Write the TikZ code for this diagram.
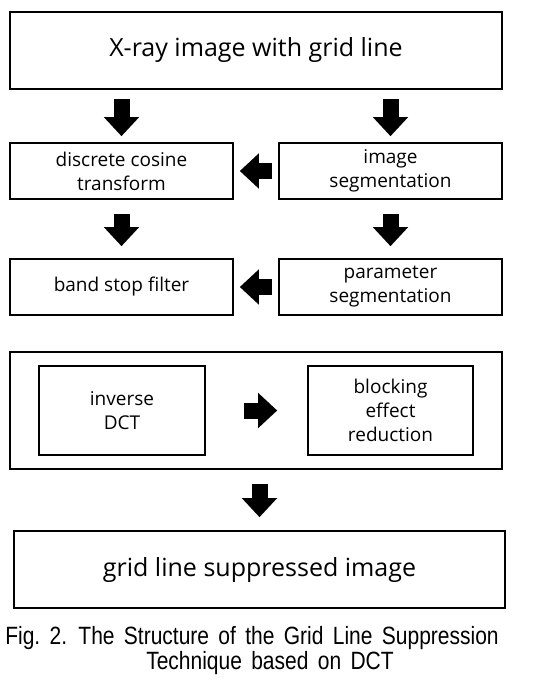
\documentclass[tikz,border=0pt]{standalone}
\usepackage{fontspec}
\setmainfont{Open Sans}
\newfontfamily\capfont[FakeStretch=0.84, WordSpace=1.6]{Liberation Sans}
\usetikzlibrary{positioning,arrows.meta}

\tikzset{
  stage/.style={draw, rectangle, line width=0.8pt, align=center, inner sep=0pt,
    font=\fontsize{9.5}{12}\selectfont},
  bigstage/.style={stage, font=\fontsize{12.5}{15}\selectfont},
  blockarrow/.style={line width=8pt, -{Triangle[width=17pt,length=9.5pt]}},
}

\begin{document}
\begin{tikzpicture}[x=0.5pt, y=-0.5pt]
  \useasboundingbox (0,0) rectangle (552,691);

  % input
  \node (Xray) [bigstage, minimum width=246pt, minimum height=38.5pt] at (256,50.5) {X-ray image with grid line};

  % left and right columns
  \node (DCT) [stage, minimum width=111.5pt, minimum height=28pt] at (121.5,171) {discrete cosine\\transform};
  \node (Seg) [stage, minimum width=111.5pt, minimum height=28pt] at (390.5,171) {image\\segmentation};
  \node (Filter) [stage, minimum width=111.5pt, minimum height=28pt] at (121.5,287) {band stop filter};
  \node (Param) [stage, minimum width=111.5pt, minimum height=28pt] at (390.5,287) {parameter\\segmentation};

  % post processing
  \node (Post) [stage, minimum width=246pt, minimum height=58.5pt] at (256,410.5) {};
  \node (IDCT) [stage, minimum width=83pt, minimum height=44.5pt] at (122,410.5) {inverse\\DCT};
  \node (Block) [stage, minimum width=82.5pt, minimum height=44.5pt] at (390.5,410.5) {blocking\\effect\\reduction};

  % output
  \node (Result) [bigstage, minimum width=245.5pt, minimum height=38.5pt] at (259.5,569.5) {grid line suppressed image};

  % caption
  \node (Cap1) at (252,638) {\capfont\fontsize{12.5}{15}\selectfont Fig.~2. The Structure of the Grid Line Suppression};
  \node (Cap2) at (270,663) {\capfont\fontsize{12.5}{15}\selectfont Technique based on DCT};

  \draw[blockarrow, shorten <=4.5pt, shorten >=3pt] (Xray.south -| DCT) -- (DCT.north);
  \draw[blockarrow, shorten <=4.5pt, shorten >=3pt] (Xray.south -| Seg) -- (Seg.north);
  \draw[blockarrow, shorten <=3pt, shorten >=3pt] (Seg.west) -- (DCT.east);
  \draw[blockarrow, shorten <=7pt, shorten >=6pt] (DCT) -- (Filter);
  \draw[blockarrow, shorten <=7pt, shorten >=6pt] (Seg) -- (Param);
  \draw[blockarrow, shorten <=3pt, shorten >=3pt] (Param.west) -- (Filter.east);
  \draw[blockarrow, shorten <=19pt, shorten >=15pt] (IDCT.east) -- (Block.west);
  \draw[blockarrow, shorten <=7pt, shorten >=6.5pt] (Post.south -| Result) -- (Result.north);
\end{tikzpicture}
\end{document}
